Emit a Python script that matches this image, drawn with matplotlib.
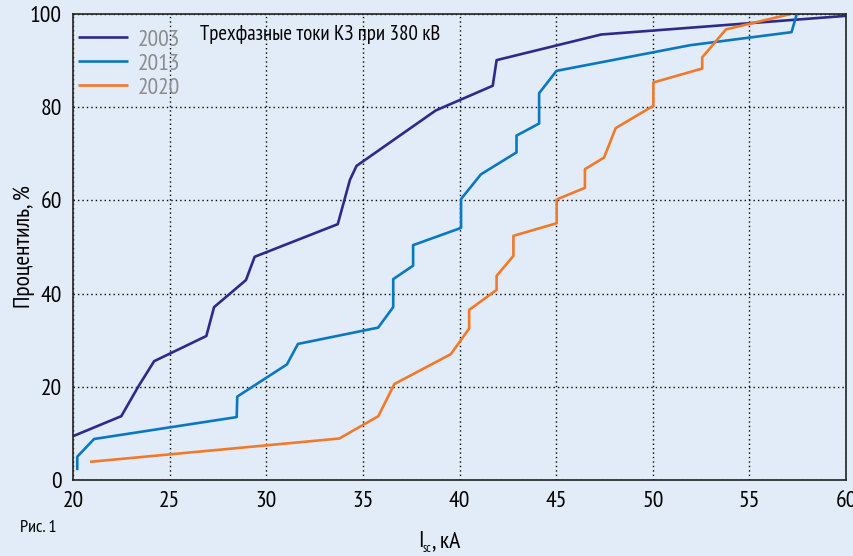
import matplotlib.pyplot as plt
from matplotlib import font_manager

# --- data (I_sc in kA, percentile in %)
x_2003 = [20.0, 22.5, 23.4, 24.2, 26.9, 27.3, 28.95, 29.4, 33.7, 34.33, 34.67,
          38.77, 41.72, 41.92, 47.33, 60.0]
y_2003 = [9.4, 13.7, 20.2, 25.5, 30.9, 37.1, 42.9, 47.9, 54.9, 64.4, 67.4,
          79.3, 84.6, 90.1, 95.6, 99.6]

x_2013 = [20.22, 20.22, 21.09, 28.47, 28.5, 31.07, 31.64, 35.79, 36.57, 36.57,
          37.6, 37.6, 40.08, 40.08, 41.11, 42.95, 42.95, 44.12, 44.12, 45.02,
          51.93, 57.18, 57.44]
y_2013 = [2.1, 5.0, 8.8, 13.5, 17.9, 24.8, 29.2, 32.7, 37.1, 43.1,
          46.0, 50.4, 54.1, 60.3, 65.6, 70.3, 73.9, 76.5, 83.0, 87.8,
          93.3, 96.1, 99.8]

x_2020 = [20.88, 33.78, 35.8, 36.63, 39.55, 40.5, 40.5, 41.92, 41.92, 42.79,
          42.79, 45.03, 45.03, 46.49, 46.49, 47.48, 48.08, 50.03, 50.03, 52.56,
          52.56, 53.79, 57.14]
y_2020 = [3.9, 8.9, 13.7, 20.6, 27.0, 32.5, 36.5, 40.8, 43.8, 48.1,
          52.4, 55.1, 60.2, 62.7, 66.7, 69.2, 75.5, 80.3, 85.3, 88.3,
          90.7, 96.7, 100.0]

years = ['2003', '2013', '2020']
colors = ['#2e2a8a', '#0a78c0', '#f07a2a']
x_ticks = [20, 25, 30, 35, 40, 45, 50, 55, 60]
y_ticks = [0, 20, 40, 60, 80, 100]


def has_cyrillic(path):
    try:
        cm = font_manager.get_font(path).get_charmap()
    except Exception:
        return False
    return all(ord(ch) in cm for ch in 'ПрцентильКЗкВАис')


# look for a narrow / condensed face with cyrillic, the reference uses one
cands = []
for f in font_manager.fontManager.ttflist:
    n = f.fname.lower()
    if ('condensed' in n or 'narrow' in n) and 'bold' not in n and 'oblique' not in n \
            and 'italic' not in n and 'light' not in n and 'mono' not in n \
            and has_cyrillic(f.fname):
        cands.append(f.fname)
cands.sort(key=lambda p: (0 if 'narrow' in p.lower() else 1 if 'roboto' in p.lower() else 2, p))
if cands:
    fp = font_manager.FontProperties(fname=cands[0])
    condensed = True
else:
    fp = font_manager.FontProperties(family=['DejaVu Sans'])
    condensed = False
big = 17 if condensed else 13
mid = 15 if condensed else 12
small = 13 if condensed else 10

bg = '#e2ecf8'
fig = plt.figure(figsize=(8.54, 5.56), dpi=100, facecolor=bg)
ax = fig.add_axes([73 / 854, 76 / 556, 773 / 854, 466 / 556])
ax.set_facecolor(bg)

for xs, ys, c, lab in zip([x_2003, x_2013, x_2020], [y_2003, y_2013, y_2020], colors, years):
    ax.plot(xs, ys, color=c, lw=1.9, label=lab, clip_on=False, solid_capstyle='butt')

ax.set_xlim(20, 60)
ax.set_ylim(0, 100)
ax.set_xticks(x_ticks)
ax.set_yticks(y_ticks)
ax.tick_params(length=0, pad=8)
for t in ax.get_xticklabels() + ax.get_yticklabels():
    t.set_fontproperties(fp)
    t.set_fontsize(big)
ax.grid(True, color='black', linestyle=(0, (1, 2.2)), lw=1)
for s in ax.spines.values():
    s.set_color('#222222')
    s.set_linewidth(1.2)

lp = fp.copy()
lp.set_size(big)
leg = ax.legend(loc='upper left', frameon=False, prop=lp, handlelength=2.15,
                borderaxespad=0.0, borderpad=0.2, labelspacing=0.11, handletextpad=0.4,
                bbox_to_anchor=(0.0, 0.978))
for t in leg.get_texts():
    t.set_color('#8c8c8c')

ax.text(0.164, 0.955, 'Трехфазные токи КЗ при 380 кВ', transform=ax.transAxes,
        fontproperties=fp, fontsize=mid, va='center', ha='left')
fig.text(24 / 854, 309 / 556, 'Процентиль, %', fontproperties=fp, fontsize=big,
         rotation=90, ha='center', va='center')

# x label with subscript, built from pieces so the narrow face is kept
fig.text(418 / 854, 9 / 556, 'I', fontproperties=fp, fontsize=big, ha='left')
fig.text(423 / 854, 4 / 556, 'sc', fontproperties=fp, fontsize=9, ha='left')
fig.text(432 / 854, 9 / 556, ', кА', fontproperties=fp, fontsize=big, ha='left')
fig.text(20 / 854, 28 / 556, 'Рис. 1', fontproperties=fp, fontsize=small,
         ha='left', va='center')

fig.savefig('out.png', dpi=100, facecolor=bg)
